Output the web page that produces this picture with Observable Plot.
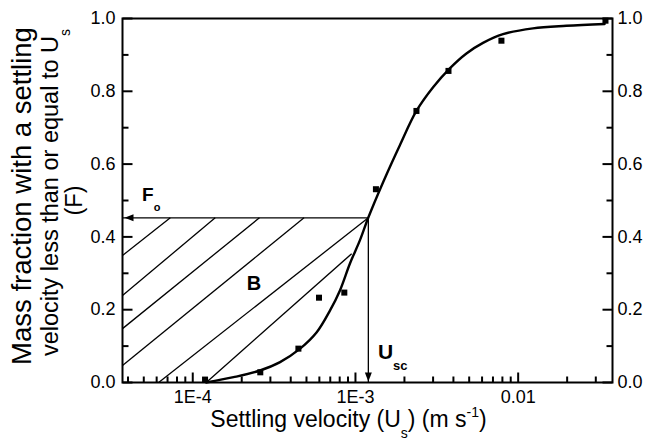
<!DOCTYPE html>
<html><head><meta charset="utf-8">
<script src="https://cdn.jsdelivr.net/npm/d3@7"></script>
<script src="https://cdn.jsdelivr.net/npm/@observablehq/plot@0.6"></script>
<style>body{margin:0;background:#fff} svg{display:block}</style>
</head><body><div id="chart"></div>
<script>
// measured points (settling velocity m/s, mass fraction F)
const pointU = [1.19e-4, 2.60e-4, 4.46e-4, 5.97e-4, 8.54e-4, 1.336e-3, 2.37e-3, 3.73e-3, 7.89e-3, 0.0344];
const pointF = [0.008, 0.028, 0.093, 0.233, 0.247, 0.531, 0.746, 0.856, 0.939, 0.994];
// fitted curve
const curveU = [1.21e-4, 1.78e-4, 2.59e-4, 3.44e-4, 4.57e-4, 5.78e-4, 6.98e-4, 8.03e-4, 9.25e-4, 1.066e-3, 1.198e-3, 1.481e-3, 1.875e-3, 2.37e-3, 3.0e-3, 3.80e-3, 4.81e-3, 6.08e-3, 8.07e-3, 0.01233, 0.01977, 0.0340];
const curveF = [0.0, 0.0146, 0.033, 0.056, 0.093, 0.138, 0.198, 0.253, 0.327, 0.391, 0.4525, 0.551, 0.652, 0.746, 0.811, 0.863, 0.904, 0.933, 0.957, 0.973, 0.980, 0.985];
// hatch lines of area B
const hatchU1 = [3.7e-5, 3.7e-5, 3.7e-5, 3.7e-5, 6.17e-5, 1.21e-4];
const hatchF1 = [0.349, 0.239, 0.148, 0.047, 0.0, 0.0];
const hatchU2 = [7.28e-5, 1.374e-4, 2.57e-4, 4.83e-4, 1.2e-3, 9.48e-4];
const hatchF2 = [0.4525, 0.4525, 0.4525, 0.4525, 0.4525, 0.354];
// critical values
const F0 = 0.4525;
const Usc = 1.2e-3;
// scales & ticks
const xDomain = [3.7e-5, 0.038];
const yDomain = [0, 1];
const xMajor = [1e-4, 1e-3, 1e-2];
const xMajorLabels = ["1E-4", "1E-3", "0.01"];
const xMinor = [4e-5, 5e-5, 6e-5, 7e-5, 8e-5, 9e-5, 2e-4, 3e-4, 4e-4, 5e-4, 6e-4, 7e-4, 8e-4, 9e-4, 2e-3, 3e-3, 4e-3, 5e-3, 6e-3, 7e-3, 8e-3, 9e-3, 2e-2, 3e-2];
const yMajor = [0, 0.2, 0.4, 0.6, 0.8, 1.0];
const yMajorLabels = ["0.0", "0.2", "0.4", "0.6", "0.8", "1.0"];
const yMinor = [0.1, 0.3, 0.5, 0.7, 0.9];
// texts
const xTitle = "Settling velocity (U_{s}) (m s^{-1})";
const yTitleLines = ["Mass fraction with a settling", "velocity less than or equal to U_{s}", "(F)"];
const labelF = "F_{o}", labelB = "B", labelU = "U_{sc}";
const labelFPos = [4.88e-5, 0.514], labelBPos = [2.38e-4, 0.272], labelUPos = [1.374e-3, 0.0825];

const points = pointU.map((u, i) => ({u, f: pointF[i]}));
const curve = curveU.map((u, i) => ({u, f: curveF[i]}));
const hatch = hatchU1.map((u, i) => ({u1: u, f1: hatchF1[i], u2: hatchU2[i], f2: hatchF2[i]}));
const xTickData = [...xMajor.map(u => ({u, L: 10})), ...xMinor.map(u => ({u, L: 6}))];
const yTickData = [...yMajor.map(f => ({f, L: 10})), ...yMinor.map(f => ({f, L: 6}))];

// shapes drawn as filled symbols (arrow heads and inward tick marks)
const poly = pts => ({draw(c) { c.moveTo(pts[0][0], pts[0][1]); for (let k = 1; k < pts.length; k++) c.lineTo(pts[k][0], pts[k][1]); c.closePath(); }});
const triLeft = poly([[0, 0], [9, -3.5], [9, 3.5]]);
const triDown = poly([[0, 0], [-3.5, -9], [3.5, -9]]);
const tickUp = L => poly([[-1, 0], [1, 0], [1, -L], [-1, -L]]);
const tickRight = L => poly([[0, -1], [L, -1], [L, 1], [0, 1]]);
const tickLeft = L => poly([[0, -1], [-L, -1], [-L, 1], [0, 1]]);

const font = "'Liberation Sans', Arial, sans-serif";
const textOnly = {label: null, tickSize: 0, fontSize: 18};
const blk = {fill: "black", stroke: "none"};

const tickMarks = [];
for (const d of xTickData) tickMarks.push(Plot.dot([d], {x: "u", y: () => yDomain[0], symbol: tickUp(d.L), r: 5, ...blk}));
for (const d of yTickData) {
  tickMarks.push(Plot.dot([d], {x: () => xDomain[0], y: "f", symbol: tickRight(d.L), r: 5, ...blk}));
  tickMarks.push(Plot.dot([d], {x: () => xDomain[1], y: "f", symbol: tickLeft(d.L), r: 5, ...blk}));
}

const chart = Plot.plot({
  width: 648, height: 441,
  marginLeft: 122, marginRight: 36, marginTop: 18, marginBottom: 59,
  style: {fontFamily: font, fontSize: "18px", color: "black", background: "white"},
  x: {type: "log", domain: xDomain},
  y: {domain: yDomain},
  marks: [
    Plot.link(hatch, {x1: "u1", y1: "f1", x2: "u2", y2: "f2", stroke: "black", strokeWidth: 1.3}),
    Plot.link([{u1: Usc, u2: xDomain[0], f: F0}], {x1: "u1", x2: "u2", y1: "f", y2: "f", stroke: "black", strokeWidth: 1.3}),
    Plot.link([{u: Usc, f1: F0, f2: 0}], {x1: "u", x2: "u", y1: "f1", y2: "f2", stroke: "black", strokeWidth: 1.3}),
    Plot.dot([{u: xDomain[0], f: F0}], {x: "u", y: "f", symbol: triLeft, dx: 2, ...blk}),
    Plot.dot([{u: Usc, f: 0}], {x: "u", y: "f", symbol: triDown, dy: -1, ...blk}),
    Plot.line(curve, {x: "u", y: "f", curve: "catmull-rom", stroke: "black", strokeWidth: 2.4}),
    Plot.dot(points, {x: "u", y: "f", symbol: "square", r: 3.4, ...blk}),
    ...tickMarks,
    Plot.axisX(xMajor, {anchor: "bottom", tickPadding: 8, ...textOnly, tickFormat: d => xMajorLabels[xMajor.indexOf(d)]}),
    Plot.axisY(yMajor, {anchor: "left", tickPadding: 7, ...textOnly, tickFormat: d => yMajorLabels[yMajor.indexOf(d)]}),
    Plot.axisY(yMajor, {anchor: "right", tickPadding: 5, ...textOnly, tickFormat: d => yMajorLabels[yMajor.indexOf(d)]}),
    Plot.frame({stroke: "black", strokeWidth: 2}),
    Plot.text([xTitle], {text: d => d, frameAnchor: "bottom", dy: 44, dx: -19, fontSize: 23}),
    Plot.text([yTitleLines[0]], {text: d => d, frameAnchor: "left", textAnchor: "middle", rotate: -90, dx: -100, dy: -4.5, fontSize: 27.5}),
    Plot.text([yTitleLines[1]], {text: d => d, frameAnchor: "left", textAnchor: "middle", rotate: -90, dx: -72, dy: -8, fontSize: 23.5}),
    Plot.text([yTitleLines[2]], {text: d => d, frameAnchor: "left", textAnchor: "middle", rotate: -90, dx: -48, fontSize: 23.5}),
    Plot.text([labelFPos], {x: d => d[0], y: d => d[1], text: () => labelF, textAnchor: "start", fontSize: 19, fontWeight: "bold"}),
    Plot.text([labelBPos], {x: d => d[0], y: d => d[1], text: () => labelB, fontSize: 20, fontWeight: "bold"}),
    Plot.text([labelUPos], {x: d => d[0], y: d => d[1], text: () => labelU, textAnchor: "start", fontSize: 21, fontWeight: "bold"})
  ]
});

// turn _{..} and ^{..} into sub/superscript tspans
function richify(node) {
  const s = node.textContent;
  if (!/[_^]\{/.test(s)) return;
  const fs = parseFloat(getComputedStyle(node).fontSize) || 18;
  const tokens = [];
  const re = /([_^])\{([^}]*)\}/g;
  let last = 0, m;
  while ((m = re.exec(s))) {
    if (m.index > last) tokens.push({t: s.slice(last, m.index), k: 0});
    tokens.push({t: m[2], k: m[1] === "_" ? 1 : -1});
    last = re.lastIndex;
  }
  if (last < s.length) tokens.push({t: s.slice(last), k: 0});
  while (node.firstChild) node.removeChild(node.firstChild);
  let cur = 0;
  for (const tkn of tokens) {
    const ts = document.createElementNS("http://www.w3.org/2000/svg", "tspan");
    const off = tkn.k === 1 ? fs * 0.5 : tkn.k === -1 ? -fs * 0.4 : 0;
    ts.setAttribute("dy", off - cur);
    cur = off;
    if (tkn.k) ts.setAttribute("font-size", Math.round(fs * 0.6));
    ts.textContent = tkn.t;
    node.appendChild(ts);
  }
}
document.getElementById("chart").appendChild(chart);
d3.select(chart).selectAll("text").each(function() { richify(this); });
</script>
</body></html>
